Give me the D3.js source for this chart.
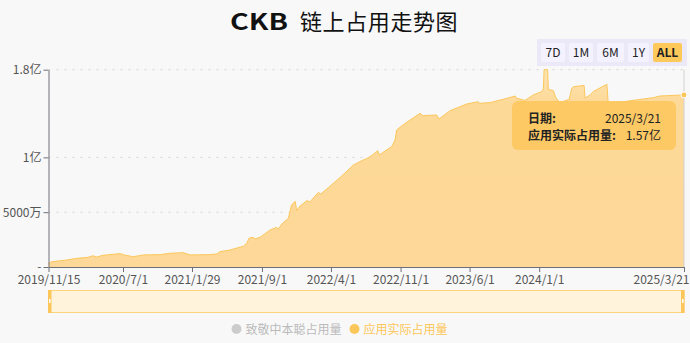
<!DOCTYPE html>
<html>
<head>
<meta charset="utf-8">
<script src="https://cdn.jsdelivr.net/npm/d3@7"></script>
<style>
  html, body { margin: 0; padding: 0; background: #f8f8f8; }
  svg { display: block; font-family: "Noto Sans CJK SC", "Noto Sans", sans-serif; }
</style>
</head>
<body>
<svg id="chart" width="690" height="343"></svg>
<script>
// ---- data (值单位: 亿) ----
var dates = [
  "2019-11-15","2019-11-25","2020-01-10","2020-02-09","2020-03-16","2020-03-30","2020-04-11","2020-05-01",
  "2020-05-31","2020-06-22","2020-07-04","2020-08-02","2020-09-01","2020-10-23","2020-11-22","2021-01-02",
  "2021-01-23","2021-03-25","2021-04-15","2021-04-25","2021-05-26","2021-07-06","2021-07-16","2021-07-24",
  "2021-08-05","2021-08-11","2021-08-26","2021-09-26","2021-10-16","2021-10-21","2021-11-01","2021-11-21",
  "2021-12-01","2021-12-12","2021-12-17","2021-12-27","2022-01-17","2022-01-27","2022-02-21","2022-03-01",
  "2022-03-24","2022-05-04","2022-06-09","2022-06-19","2022-07-09","2022-07-20","2022-07-30","2022-08-09",
  "2022-08-23","2022-08-28","2022-09-14","2022-10-05","2022-10-15","2022-10-20","2022-11-04","2022-11-30",
  "2022-12-31","2023-01-08","2023-02-20","2023-02-27","2023-04-02","2023-05-23","2023-06-28","2023-07-01",
  "2023-08-03","2023-09-13","2023-10-19","2023-10-24","2023-11-18","2023-12-14","2024-01-09","2024-01-14",
  "2024-01-16","2024-01-27","2024-01-29","2024-02-13","2024-02-22","2024-03-05","2024-04-02","2024-04-10",
  "2024-04-15","2024-05-18","2024-05-21","2024-06-05","2024-06-15","2024-07-27","2024-07-31","2024-08-26",
  "2024-12-17","2025-01-06","2025-03-21"
];
var usage = [
  0.034,0.048,0.064,0.079,0.088,0.103,0.091,0.107,
  0.116,0.122,0.110,0.094,0.110,0.113,0.125,0.131,
  0.110,0.113,0.119,0.140,0.155,0.190,0.216,0.265,
  0.270,0.258,0.270,0.338,0.362,0.344,0.392,0.444,
  0.566,0.600,0.514,0.556,0.605,0.596,0.680,0.666,
  0.724,0.830,0.930,0.946,0.976,0.990,1.006,1.028,
  1.061,1.022,1.058,1.098,1.159,1.250,1.286,1.341,
  1.402,1.381,1.387,1.350,1.426,1.487,1.508,1.493,
  1.500,1.530,1.560,1.540,1.520,1.570,1.600,1.630,
  1.800,1.800,1.620,1.610,1.540,1.500,1.530,1.630,
  1.645,1.656,1.540,1.570,1.600,1.667,1.500,1.500,
  1.545,1.560,1.570
];
var xTicks = ["2019-11-15","2020-07-01","2021-01-29","2021-09-01","2022-04-01","2022-11-01","2023-06-01","2024-01-01","2025-03-21"];
var yTicks = [0, 0.5, 1, 1.8];
var yTickLabels = ["-", "5000万", "1亿", "1.8亿"];
var ranges = ["7D", "1M", "6M", "1Y", "ALL"];
var legendNames = ["致敬中本聪占用量", "应用实际占用量"];
var legendColors = ["#cccccc", "#fcc75a"];

(function(){
var parse = d3.timeParse("%Y-%m-%d");
var fmt = d3.timeFormat("%Y/%-m/%-d");
var data = dates.map(function(d, i){ return {date: parse(d), v: usage[i]}; });

var svg = d3.select('#chart');
var plotL = 48.5, plotR = 684, plotT = 69.7, plotB = 267;

var x = d3.scaleTime().domain([parse(dates[0]), parse(dates[dates.length - 1])]).range([plotL, plotR]);
var y = d3.scaleLinear().domain([0, 1.8]).range([plotB, plotT]);

// title
var title = svg.append('text').attr('y', 30).attr('fill', '#111');
title.append('tspan').attr('x', 230).attr('font-weight', 700).attr('font-size', 22)
  .attr('textLength', 58).attr('lengthAdjust', 'spacingAndGlyphs').text('CKB');
title.append('tspan').attr('x', 300).attr('font-size', 22).attr('letter-spacing', 0.6).text('链上占用走势图');

// range buttons
var bar = svg.append('g');
bar.append('rect').attr('x', 537).attr('y', 39).attr('width', 150).attr('height', 27).attr('fill', '#ebe9f8');
var btnX = [541, 569, 597, 628, 653], btnW = [24, 24, 27, 21, 29];
ranges.forEach(function(r, i){
  var on = r === 'ALL';
  bar.append('rect').attr('x', btnX[i]).attr('y', 43).attr('width', btnW[i]).attr('height', 19)
    .attr('rx', 2).attr('fill', on ? '#fec95b' : '#f4f2fe');
  bar.append('text').attr('x', btnX[i] + btnW[i] / 2).attr('y', 57).attr('text-anchor', 'middle')
    .attr('font-size', 12).attr('font-weight', on ? 700 : 400).attr('fill', '#222').text(r);
});

// grid
svg.append('g').selectAll('line').data(yTicks.slice(1)).enter().append('line')
  .attr('x1', plotL).attr('x2', plotR + 1).attr('y1', y).attr('y2', y)
  .attr('stroke', '#d4d4d4').attr('stroke-dasharray', '2,6');

// area gradient
var grad = svg.append('defs').append('linearGradient').attr('id', 'fillGrad')
  .attr('gradientUnits', 'userSpaceOnUse').attr('x1', 0).attr('x2', 0).attr('y1', plotT).attr('y2', plotB);
grad.append('stop').attr('offset', 0).attr('stop-color', '#fee4b2');
grad.append('stop').attr('offset', 0.17).attr('stop-color', '#fdd998');
grad.append('stop').attr('offset', 1).attr('stop-color', '#fdd898');

svg.append('path').datum(data)
  .attr('fill', 'url(#fillGrad)')
  .attr('d', d3.area().x(function(d){ return x(d.date); }).y0(plotB).y1(function(d){ return y(d.v); }));
svg.append('path').datum(data)
  .attr('fill', 'none').attr('stroke', '#fcc75b').attr('stroke-width', 1)
  .attr('d', d3.line().x(function(d){ return x(d.date); }).y(function(d){ return y(d.v); }));

// axes
var yAxis = svg.append('g').attr('transform', 'translate(' + plotL + ',0)')
  .call(d3.axisLeft(y).tickValues(yTicks).tickSize(5).tickSizeOuter(0).tickPadding(2)
    .tickFormat(function(d, i){ return yTickLabels[i]; }));
var xAxis = svg.append('g').attr('transform', 'translate(0,' + plotB + ')')
  .call(d3.axisBottom(x).tickValues(xTicks.map(parse)).tickSize(5).tickSizeOuter(0).tickPadding(3)
    .tickFormat(fmt));
[yAxis, xAxis].forEach(function(a){
  a.select('.domain').attr('stroke', '#6e7079');
  a.selectAll('.tick line').attr('stroke', '#6e7079');
  a.selectAll('.tick text').attr('fill', '#555').attr('font-size', 12)
    .attr('font-family', '"Noto Sans CJK SC", "Noto Sans", sans-serif');
});
xAxis.selectAll('.tick text').filter(function(d, i){ return i === xTicks.length - 1; })
  .attr('text-anchor', 'end').attr('dx', 5);

// pointer at last point
var last = data[data.length - 1];
svg.append('line').attr('x1', x(last.date)).attr('x2', x(last.date)).attr('y1', plotT).attr('y2', plotB)
  .attr('stroke', '#d0d0d0');
svg.append('circle').attr('cx', x(last.date)).attr('cy', y(last.v)).attr('r', 3)
  .attr('fill', '#fcc65a').attr('stroke', '#fff').attr('stroke-width', 1);

// tooltip
var tip = svg.append('g');
tip.append('rect').attr('x', 512).attr('y', 101).attr('width', 164).attr('height', 49).attr('rx', 6)
  .attr('fill', '#fdc862').attr('opacity', 0.95);
tip.append('text').attr('x', 528).attr('y', 123).attr('font-size', 12).attr('font-weight', 700)
  .attr('fill', '#222').text('日期:');
tip.append('text').attr('x', 661).attr('y', 123).attr('font-size', 12).attr('text-anchor', 'end')
  .attr('fill', '#222').text(fmt(last.date));
tip.append('text').attr('x', 528).attr('y', 140).attr('font-size', 12).attr('font-weight', 700)
  .attr('fill', '#222').text(legendNames[1] + ':');
tip.append('text').attr('x', 661).attr('y', 140).attr('font-size', 12).attr('text-anchor', 'end')
  .attr('fill', '#222').text(last.v.toFixed(2) + '亿');

// data zoom slider
var dz = svg.append('g');
dz.append('rect').attr('x', plotL).attr('y', 290.5).attr('width', plotR - plotL).attr('height', 22)
  .attr('fill', '#fff3dc').attr('stroke', '#fdd27c');
[plotL - 0.5, plotR - 3].forEach(function(hx){
  dz.append('rect').attr('x', hx).attr('y', 290).attr('width', 3.5).attr('height', 23).attr('fill', '#fcc65a');
  dz.append('rect').attr('x', hx + 1).attr('y', 299).attr('width', 1.5).attr('height', 4).attr('fill', '#fff');
});

// legend
var lg = svg.append('g');
var lgX = [236.5, 354.5];
legendNames.forEach(function(n, i){
  lg.append('circle').attr('cx', lgX[i]).attr('cy', 329).attr('r', 5).attr('fill', legendColors[i]);
  lg.append('text').attr('x', lgX[i] + 9).attr('y', 333.5).attr('font-size', 12)
    .attr('fill', i === 0 ? '#bbbbbb' : '#fcc75a').text(n);
});
})();
</script>
</body>
</html>
